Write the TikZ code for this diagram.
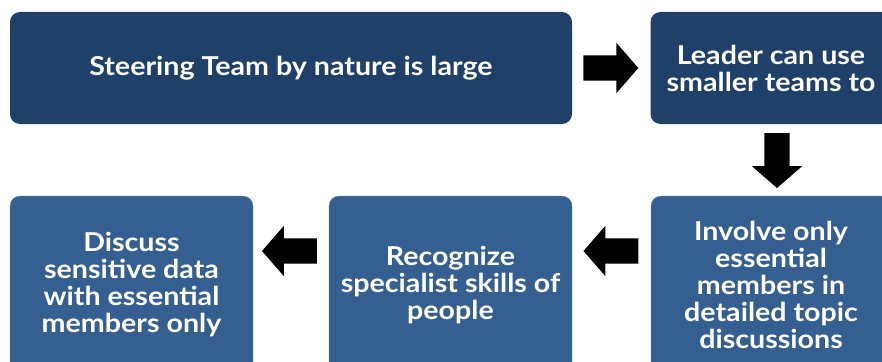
\documentclass[tikz,border=0pt]{standalone}
\usepackage{fontspec}
\setmainfont{Lato}[FakeStretch=1.1]
\usepackage{tikz}
\usetikzlibrary{positioning,shapes.arrows,calc}
\definecolor{navy}{RGB}{31,64,104}
\definecolor{steel}{RGB}{53,95,145}

\begin{document}
\begin{tikzpicture}[
    x=1pt, y=-1pt,
    every node/.style={font=\fontsize{26}{27}\selectfont\bfseries, text=white},
    box/.style={rounded corners=10pt, align=center, inner sep=0pt},
    topbox/.style={box, fill=navy, minimum height=112pt},
    lowbox/.style={box, fill=steel, draw=steel!70!white, minimum height=178pt},
    blockarrow/.style={single arrow, fill=black, inner sep=12.5pt,
                       single arrow head extend=12.5pt, minimum height=55pt,
                       single arrow tip angle=98},
]
\useasboundingbox (0,0) rectangle (882,361);
\clip (0,0) rectangle (882,361);

% Top row
\node[topbox, minimum width=562pt] (large) at (291,68)
    {Steering Team by nature is large};
\node[topbox, minimum width=241pt] (leader) at (771,68)
    {Leader can use\\smaller teams to};

% Bottom row
\node[lowbox, minimum width=240pt] (involve) at (771,285)
    {Involve only\\essential\\members in\\detailed topic\\discussions};
\node[lowbox, minimum width=243pt] (recog) at (450.5,285)
    {Recognize\\specialist skills of\\people};
\node[lowbox, minimum width=243pt] (discuss) at (131.5,285)
    {Discuss\\sensitive data\\with essential\\members only};

% Arrows
\node[blockarrow, xshift=-6pt] (toleader) at ($(large.east)!0.5!(leader.west)$) {};
\node[blockarrow, shape border rotate=270, xshift=6pt, yshift=5pt] (toinvolve)
    at ($(leader.south)!0.5!(involve.north)$) {};
\node[blockarrow, shape border rotate=180, yshift=34pt, xshift=5pt] (torecog)
    at ($(involve.west)!0.5!(recog.east)$) {};
\node[blockarrow, shape border rotate=180, yshift=34pt, xshift=4pt] (todiscuss)
    at ($(recog.west)!0.5!(discuss.east)$) {};
\end{tikzpicture}
\end{document}
